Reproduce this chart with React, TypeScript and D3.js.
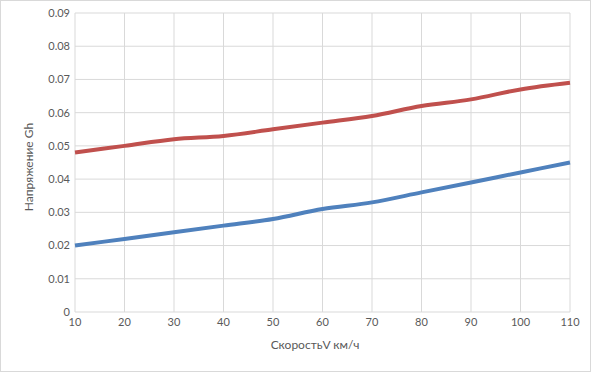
import React from 'react';
import * as d3 from 'd3';

const speeds = [10, 20, 30, 40, 50, 60, 70, 80, 90, 100, 110];
const redValues = [0.048, 0.050, 0.052, 0.053, 0.055, 0.057, 0.059, 0.062, 0.064, 0.067, 0.069];
const blueValues = [0.020, 0.022, 0.024, 0.026, 0.028, 0.031, 0.033, 0.036, 0.039, 0.042, 0.045];
const yTicks = [0, 0.01, 0.02, 0.03, 0.04, 0.05, 0.06, 0.07, 0.08, 0.09];

const width = 591, height = 372;
const margin = { left: 75, right: 21, top: 13, bottom: 60 };

const App = () => {
  const x = d3.scaleLinear().domain([10, 110]).range([margin.left, width - margin.right]);
  const y = d3.scaleLinear().domain([0, 0.09]).range([height - margin.bottom, margin.top]);

  const line = d3.line<number>()
    .x((_, i) => x(speeds[i]))
    .y(d => y(d))
    .curve(d3.curveCatmullRom);

  const font = 'Lato, Carlito, "Liberation Sans", sans-serif';

  return (
    <svg width={width} height={height} style={{ position: 'absolute', left: 0, top: 0, fontFamily: font }}>
      <rect x={0.5} y={0.5} width={width - 1} height={height - 1} fill="#fff" stroke="#d9d9d9" />
      {/* horizontal grid */}
      {yTicks.map(t => (
        <g key={'y' + t}>
          <line x1={margin.left} x2={width - margin.right} y1={y(t)} y2={y(t)} stroke="#d9d9d9" />
          <text x={margin.left - 5} y={y(t)} dy="0.35em" textAnchor="end" fontSize={11} fill="#595959">
            {t === 0 ? '0' : t.toFixed(2)}
          </text>
        </g>
      ))}
      {/* vertical grid */}
      {speeds.map(s => (
        <g key={'x' + s}>
          <line x1={x(s)} x2={x(s)} y1={margin.top} y2={height - margin.bottom} stroke="#d9d9d9" />
          <text x={x(s)} y={height - margin.bottom + 14} textAnchor="middle" fontSize={11} fill="#595959">
            {s}
          </text>
        </g>
      ))}
      <path d={line(redValues) || ''} fill="none" stroke="#C0504D" strokeWidth={4} />
      <path d={line(blueValues) || ''} fill="none" stroke="#4F81BD" strokeWidth={4} />
      <text x={315} y={349} textAnchor="middle" fontSize={12} fill="#595959">
        СкоростьV км/ч
      </text>
      <text transform="translate(33, 167) rotate(-90)" textAnchor="middle" fontSize={12} fill="#595959">
        Напряжение Gh
      </text>
    </svg>
  );
};

export default App;
